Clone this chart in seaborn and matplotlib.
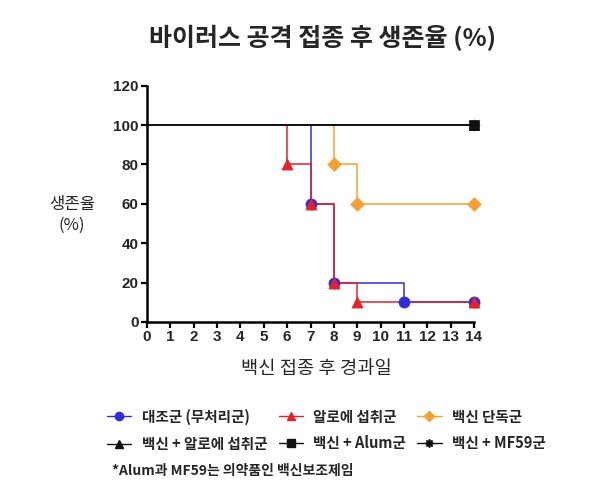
import matplotlib
matplotlib.use("Agg")
import matplotlib.pyplot as plt
import seaborn as sns
import pandas as pd
from matplotlib.lines import Line2D

sns.set_theme(style="ticks")
plt.rcParams['font.family'] = ['Noto Sans CJK KR', 'DejaVu Sans']

# ---- data ----
days = [0, 6, 7, 8, 9, 11, 14]
control = [100, 100, 60, 20, 20, 10, 10]
aloe = [100, 80, 60, 20, 10, 10, 10]
vaccine = [100, 100, 100, 80, 60, 60, 60]
vac_aloe = [100, 100, 100, 100, 100, 100, 100]
vac_alum = [100, 100, 100, 100, 100, 100, 100]
vac_mf59 = [100, 100, 100, 100, 100, 100, 100]

labels = ["대조군 (무처리군)", "알로에 섭취군", "백신 단독군",
          "백신 + 알로에 섭취군", "백신 + Alum군", "백신 + MF59군"]
x_ticks = list(range(0, 15))
y_ticks = [0, 20, 40, 60, 80, 100, 120]

title = "바이러스 공격 접종 후 생존율 (%)"
xlabel = "백신 접종 후 경과일"
ylabel = "생존율\n(%)"
footnote = "*Alum과 MF59는 의약품인 백신보조제임"

series = [control, aloe, vaccine, vac_aloe, vac_alum, vac_mf59]
colors = ["#2f2fd8", "#e8202a", "#f5a031", "#111111", "#111111", "#111111"]
markers = ["o", "^", "D", "^", "s", (8, 1, 0)]
msizes = [8, 8, 7, 7, 7, 8]

fig = plt.figure(figsize=(6, 4.93), dpi=100)
ax = fig.add_axes([0.245, 0.347, 0.545, 0.479])

for vals, c, m, ms in zip(series, colors, markers, msizes):
    df = pd.DataFrame({"day": days, "val": vals})
    sns.lineplot(data=df, x="day", y="val", ax=ax, color=c, lw=1.1,
                 drawstyle="steps-post", legend=False, zorder=2)
    # markers where value changes, plus final point
    pts = [(d, v) for i, (d, v) in enumerate(zip(days, vals))
           if (i > 0 and v != vals[i - 1]) or i == len(vals) - 1]
    mdf = pd.DataFrame(pts, columns=["day", "val"])
    sns.scatterplot(data=mdf, x="day", y="val", ax=ax, color=c, marker=m,
                    s=ms ** 2, edgecolor=c, linewidth=0.5, clip_on=False,
                    zorder=3, legend=False)

ax.set_xlim(0, 14)
ax.set_ylim(0, 120)
ax.set_xticks(x_ticks)
ax.set_yticks(y_ticks)
for lab in ax.get_xticklabels() + ax.get_yticklabels():
    lab.set_fontfamily("Liberation Sans")
    lab.set_fontweight("bold")
    lab.set_fontsize(11)
ax.tick_params(axis="both", length=4, width=1.6, color="black", pad=2)
for s in ["left", "bottom"]:
    ax.spines[s].set_linewidth(1.8)
    ax.spines[s].set_color("black")
sns.despine(ax=ax)
ax.set_xlabel("")
ax.set_ylabel("")

fig.text(0.538, 0.923, title, ha="center", va="center", fontsize=18, fontweight="bold")
fig.text(0.12, 0.565, ylabel, ha="center", va="center", fontsize=12, linespacing=1.3)
fig.text(0.527, 0.253, xlabel, ha="center", va="center", fontsize=13.5)

handles = [Line2D([0], [0], color=c, lw=1.0, marker=m, markersize=ms * 0.75,
                  markeredgecolor=c)
           for c, m, ms in zip(colors, markers, msizes)]
order = [0, 3, 1, 4, 2, 5]
leg = fig.legend([handles[i] for i in order], [labels[i] for i in order],
                 ncol=3, loc="upper left", bbox_to_anchor=(0.157, 0.198),
                 frameon=False, handlelength=1.65, columnspacing=0.8,
                 handletextpad=0.7, labelspacing=0.75,
                 prop={"size": 10.5, "weight": "bold"})

fig.text(0.187, 0.045, footnote, ha="left", va="center", fontsize=10, fontweight="bold")

fig.savefig("out.png", dpi=100, facecolor="white")
